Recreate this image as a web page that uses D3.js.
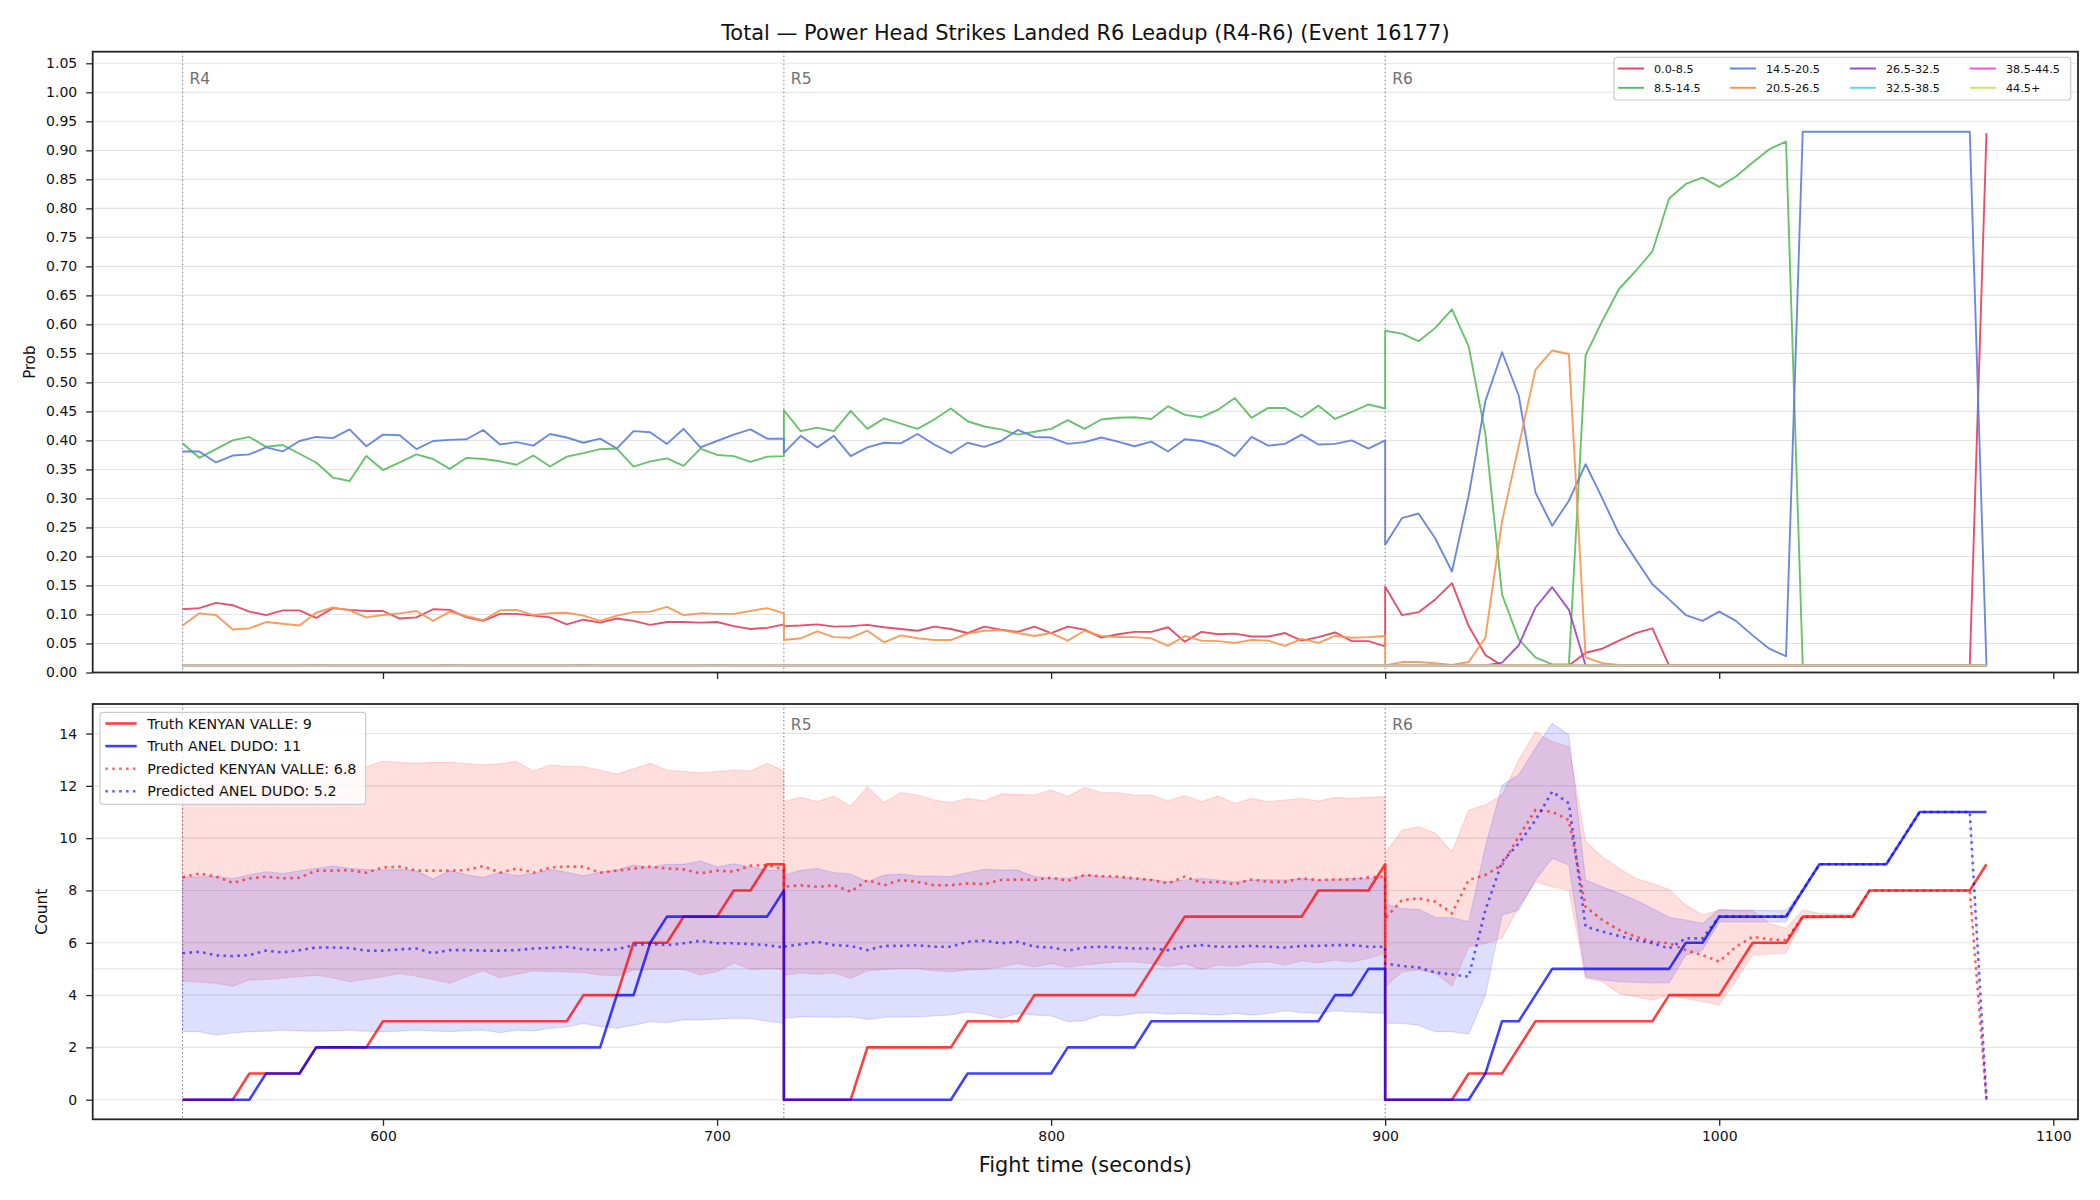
<!DOCTYPE html>
<html>
<head>
<meta charset="utf-8">
<script src="https://cdn.jsdelivr.net/npm/d3@7"></script>
<style>
  body { margin: 0; background: #fff; }
  svg text { font-family: "DejaVu Sans", sans-serif; }
</style>
</head>
<body>
<div id="chart"></div>
<script>
// ---------------------------  DATA  ---------------------------
const titleText = "Total \u2014 Power Head Strikes Landed R6 Leadup (R4-R6) (Event 16177)";
const roundStarts = [540, 720, 900];
const roundNames = ["R4", "R5", "R6"];
const samplesPerRound = 37;      // 0..180 s every 5 s, both ends included
const sampleStep = 5;

const xTicks = [600, 700, 800, 900, 1000, 1100];
const probTicks = [0, 0.05, 0.10, 0.15, 0.20, 0.25, 0.30, 0.35, 0.40, 0.45, 0.50,
                   0.55, 0.60, 0.65, 0.70, 0.75, 0.80, 0.85, 0.90, 0.95, 1.00, 1.05];
const countTicks = [0, 2, 4, 6, 8, 10, 12, 14];
const countRefLines = [5, 15];

const bucketNames = ["0.0-8.5", "8.5-14.5", "14.5-20.5", "20.5-26.5",
                     "26.5-32.5", "32.5-38.5", "38.5-44.5", "44.5+"];
const bucketColors = ["#e6405f", "#5bbd60", "#5f7fe0", "#f9954e",
                      "#9d45c2", "#5ad6f0", "#f050e0", "#c5e65a"];

// one array per bucket: R4 (37), R5 (37), R6 (37)
const prob0 = [
  0.109,0.111,0.120,0.116,0.105,0.099,0.107,0.107,0.094,0.111,0.108,0.106,0.106,0.093,0.095,0.109,0.108,0.095,0.089,0.101,0.101,0.098,0.095,0.083,0.091,0.086,0.093,0.089,0.082,0.087,0.087,0.086,0.087,0.080,0.075,0.077,0.083,
  0.080,0.081,0.083,0.079,0.080,0.082,0.078,0.075,0.072,0.079,0.075,0.068,0.079,0.074,0.070,0.079,0.068,0.079,0.074,0.060,0.066,0.070,0.070,0.078,0.053,0.070,0.066,0.067,0.062,0.062,0.068,0.055,0.061,0.069,0.054,0.054,0.045,
  0.148,0.099,0.104,0.126,0.154,0.080,0.030,0.012,0.012,0.012,0.012,0.012,0.034,0.041,0.055,0.068,0.076,0.012,0.012,0.012,0.012,0.012,0.012,0.012,0.012,0.012,0.012,0.012,0.012,0.012,0.012,0.012,0.012,0.012,0.012,0.012,0.930
];
const prob1 = [
  0.395,0.370,0.385,0.400,0.406,0.389,0.392,0.377,0.362,0.336,0.330,0.373,0.349,0.362,0.376,0.368,0.351,0.370,0.368,0.364,0.358,0.374,0.355,0.372,0.378,0.385,0.386,0.355,0.364,0.369,0.356,0.386,0.375,0.373,0.363,0.372,0.373,
  0.452,0.416,0.422,0.416,0.451,0.420,0.438,0.429,0.420,0.436,0.455,0.433,0.424,0.419,0.410,0.415,0.420,0.435,0.420,0.436,0.439,0.440,0.437,0.459,0.444,0.440,0.453,0.473,0.439,0.456,0.456,0.440,0.460,0.437,0.449,0.462,0.455,
  0.589,0.584,0.571,0.594,0.626,0.562,0.411,0.134,0.057,0.026,0.014,0.014,0.547,0.606,0.661,0.692,0.726,0.817,0.842,0.853,0.837,0.855,0.879,0.902,0.915,0.012,0.012,0.012,0.012,0.012,0.012,0.012,0.012,0.012,0.012,0.012,0.012
];
const prob2 = [
  0.381,0.381,0.362,0.374,0.376,0.388,0.381,0.399,0.406,0.404,0.419,0.390,0.410,0.409,0.385,0.399,0.401,0.402,0.418,0.393,0.397,0.391,0.411,0.405,0.396,0.403,0.386,0.416,0.414,0.394,0.420,0.388,0.399,0.410,0.419,0.403,0.403,
  0.378,0.408,0.388,0.408,0.373,0.388,0.396,0.395,0.411,0.393,0.378,0.396,0.389,0.399,0.418,0.406,0.405,0.394,0.397,0.405,0.398,0.390,0.398,0.381,0.402,0.399,0.390,0.373,0.406,0.391,0.394,0.410,0.393,0.394,0.400,0.386,0.400,
  0.220,0.266,0.274,0.231,0.174,0.305,0.468,0.552,0.477,0.310,0.253,0.296,0.359,0.300,0.239,0.195,0.152,0.126,0.099,0.089,0.105,0.089,0.064,0.041,0.028,0.932,0.932,0.932,0.932,0.932,0.932,0.932,0.932,0.932,0.932,0.932,0.012
];
const prob3 = [
  0.081,0.102,0.099,0.074,0.076,0.087,0.084,0.081,0.103,0.112,0.107,0.095,0.099,0.102,0.106,0.089,0.105,0.097,0.090,0.107,0.108,0.099,0.102,0.103,0.098,0.089,0.098,0.104,0.105,0.113,0.099,0.102,0.101,0.101,0.106,0.111,0.102,
  0.056,0.059,0.071,0.061,0.060,0.072,0.052,0.064,0.059,0.056,0.056,0.067,0.072,0.073,0.068,0.063,0.068,0.055,0.072,0.063,0.061,0.061,0.059,0.046,0.063,0.055,0.054,0.051,0.056,0.055,0.046,0.058,0.051,0.063,0.060,0.061,0.063,
  0.012,0.018,0.018,0.016,0.013,0.018,0.060,0.261,0.391,0.522,0.555,0.549,0.026,0.016,0.013,0.012,0.012,0.012,0.012,0.012,0.012,0.012,0.012,0.012,0.012,0.012,0.012,0.012,0.012,0.012,0.012,0.012,0.012,0.012,0.012,0.012,0.012
];
const prob4 = [
  0.012,0.012,0.012,0.012,0.012,0.012,0.012,0.012,0.013,0.012,0.012,0.012,0.012,0.012,0.012,0.012,0.013,0.012,0.012,0.012,0.012,0.012,0.012,0.012,0.013,0.012,0.012,0.012,0.012,0.012,0.012,0.012,0.013,0.012,0.012,0.012,0.012,
  0.012,0.012,0.012,0.012,0.012,0.012,0.012,0.012,0.012,0.012,0.012,0.012,0.012,0.012,0.012,0.012,0.012,0.012,0.012,0.012,0.012,0.012,0.012,0.012,0.012,0.012,0.012,0.012,0.012,0.012,0.012,0.012,0.012,0.012,0.012,0.012,0.012,
  0.012,0.012,0.012,0.012,0.012,0.012,0.012,0.017,0.047,0.112,0.147,0.108,0.012,0.012,0.012,0.012,0.012,0.012,0.012,0.012,0.012,0.012,0.012,0.012,0.012,0.012,0.012,0.012,0.012,0.012,0.012,0.012,0.012,0.012,0.012,0.012,0.012
];
const probFlat = [
  0.012,0.012,0.012,0.012,0.012,0.012,0.012,0.012,0.012,0.012,0.012,0.012,0.012,0.012,0.012,0.012,0.012,0.012,0.012,0.012,0.012,0.012,0.012,0.012,0.012,0.012,0.012,0.012,0.012,0.012,0.012,0.012,0.012,0.012,0.012,0.012,0.012,
  0.012,0.012,0.012,0.012,0.012,0.012,0.012,0.012,0.012,0.012,0.012,0.012,0.012,0.012,0.012,0.012,0.012,0.012,0.012,0.012,0.012,0.012,0.012,0.012,0.012,0.012,0.012,0.012,0.012,0.012,0.012,0.012,0.012,0.012,0.012,0.012,0.012,
  0.012,0.012,0.012,0.012,0.012,0.012,0.012,0.012,0.012,0.012,0.012,0.012,0.012,0.012,0.012,0.012,0.012,0.012,0.012,0.012,0.012,0.012,0.012,0.012,0.012,0.012,0.012,0.012,0.012,0.012,0.012,0.012,0.012,0.012,0.012,0.012,0.012
];
const probSeries = [prob0, prob1, prob2, prob3, prob4, probFlat, probFlat, probFlat];

// bottom panel: fighters
const fighterNames = ["KENYAN VALLE", "ANEL DUDO"];
const truthFinal = [9, 11];
const predFinal = [6.8, 5.2];

const truthRed = [
  0,0,0,0,1,1,1,1,2,2,2,2,3,3,3,3,3,3,3,3,3,3,3,3,4,4,4,6,6,6,7,7,7,8,8,9,9,
  0,0,0,0,0,2,2,2,2,2,2,3,3,3,3,4,4,4,4,4,4,4,5,6,7,7,7,7,7,7,7,7,8,8,8,8,9,
  0,0,0,0,0,1,1,1,2,3,3,3,3,3,3,3,3,4,4,4,4,5,6,6,6,7,7,7,7,8,8,8,8,8,8,8,9
];
const truthBlue = [
  0,0,0,0,0,1,1,1,2,2,2,2,2,2,2,2,2,2,2,2,2,2,2,2,2,2,4,4,6,7,7,7,7,7,7,7,8,
  0,0,0,0,0,0,0,0,0,0,0,1,1,1,1,1,1,2,2,2,2,2,3,3,3,3,3,3,3,3,3,3,3,4,4,5,5,
  0,0,0,0,0,0,1,3,3,4,5,5,5,5,5,5,5,5,6,6,7,7,7,7,7,8,9,9,9,9,9,10,11,11,11,11,11
];
const predRed = [
  8.50,8.65,8.53,8.29,8.46,8.53,8.46,8.49,8.76,8.76,8.78,8.68,8.88,8.91,8.76,8.76,8.76,8.78,8.93,8.68,8.84,8.68,8.88,8.91,8.91,8.68,8.76,8.84,8.91,8.84,8.81,8.65,8.76,8.72,8.95,8.97,8.81,
  8.14,8.20,8.14,8.20,7.95,8.40,8.20,8.40,8.33,8.20,8.20,8.27,8.24,8.40,8.42,8.40,8.49,8.37,8.59,8.55,8.53,8.46,8.40,8.27,8.53,8.30,8.33,8.24,8.42,8.33,8.33,8.46,8.40,8.42,8.42,8.50,8.53,
  6.93,7.63,7.70,7.57,7.13,8.40,8.59,8.97,10.06,11.08,11.01,10.69,7.38,6.87,6.49,6.23,6.04,5.98,5.72,5.53,5.28,5.85,6.23,6.13,6.10,7.00,7.00,7.00,7.00,8.00,8.00,8.00,8.00,8.00,8.00,8.00,0
];
const predBlue = [
  5.60,5.66,5.52,5.49,5.53,5.70,5.63,5.72,5.82,5.82,5.80,5.70,5.70,5.75,5.78,5.60,5.72,5.72,5.70,5.70,5.72,5.78,5.80,5.85,5.75,5.72,5.75,5.91,5.95,5.91,5.98,6.08,5.98,5.98,5.95,5.91,5.82,
  5.85,5.94,6.04,5.91,5.88,5.72,5.88,5.88,5.91,5.85,5.85,6.04,6.08,5.98,6.04,5.85,5.82,5.70,5.82,5.85,5.82,5.78,5.78,5.72,5.85,5.91,5.85,5.85,5.88,5.85,5.82,5.88,5.88,5.91,5.91,5.85,5.85,
  5.21,5.11,5.06,4.86,4.79,4.70,7.25,9.10,9.80,10.69,11.78,11.33,6.62,6.43,6.26,6.10,5.98,5.78,6.17,6.17,7.00,7.00,7.00,7.00,7.00,8.02,9.00,9.00,9.00,9.00,9.00,10.00,11.00,11.00,11.00,11.00,0
];
const redHi = [
  12.60,12.65,12.55,12.45,12.50,12.55,12.60,12.70,12.75,12.80,12.73,12.73,12.95,12.90,12.86,12.90,12.90,12.85,12.80,12.85,12.93,12.57,12.80,12.75,12.73,12.60,12.45,12.65,12.86,12.60,12.55,12.50,12.55,12.60,12.57,12.86,12.57,
  11.40,11.56,11.40,11.61,11.23,11.97,11.36,11.74,11.65,11.46,11.36,11.52,11.43,11.69,11.68,11.65,11.84,11.59,11.94,11.74,11.74,11.65,11.65,11.43,11.63,11.40,11.61,11.33,11.52,11.40,11.46,11.52,11.42,11.56,11.52,11.56,11.59,
  9.42,10.30,10.44,10.19,9.48,11.08,11.27,11.65,12.99,14.07,13.69,13.50,9.87,9.29,8.85,8.46,8.27,8.04,7.44,7.06,7.25,7.23,7.23,6.74,6.55,7.25,7.13,7.10,7.10,8.00,8.00,8.00,8.00,8.00,8.00,8.00,0
];
const redLo = [
  4.54,4.49,4.45,4.34,4.58,4.60,4.65,4.70,4.76,4.66,4.51,4.61,4.70,4.83,4.72,4.60,4.45,4.70,4.93,4.66,4.80,4.92,4.90,4.89,4.86,4.77,4.73,4.96,4.98,4.98,4.98,4.77,4.89,5.24,4.98,5.02,4.98,
  4.76,4.85,4.80,4.85,4.64,4.93,4.98,5.02,5.02,4.93,4.89,4.96,4.98,5.08,5.21,5.08,5.21,5.06,5.15,5.21,5.27,5.27,5.21,5.08,5.21,4.98,5.15,5.11,5.24,5.27,5.15,5.31,5.24,5.34,5.27,5.40,5.60,
  4.32,4.89,4.96,4.83,4.35,5.85,5.98,6.17,7.38,8.34,8.14,8.02,4.64,4.51,4.06,3.94,3.81,4.00,3.87,3.75,3.62,4.58,5.53,5.57,5.60,6.90,6.93,6.97,6.97,8.00,8.00,8.00,8.00,8.00,8.00,8.00,0
];
const blueHi = [
  8.50,8.52,8.53,8.45,8.60,8.72,8.65,8.75,8.85,8.93,8.85,8.80,8.78,8.80,8.75,8.44,8.76,8.60,8.50,8.70,8.56,8.65,8.80,8.70,8.56,8.70,8.78,8.97,8.88,9.00,9.00,9.13,8.90,9.02,8.90,8.78,8.78,
  8.59,8.76,8.84,8.68,8.63,8.33,8.59,8.63,8.55,8.55,8.53,8.68,8.81,8.78,8.78,8.53,8.46,8.46,8.59,8.53,8.50,8.46,8.42,8.33,8.40,8.46,8.40,8.33,8.40,8.42,8.40,8.46,8.40,8.42,8.46,8.46,8.46,
  7.48,7.31,7.28,6.97,6.96,6.80,9.68,12.03,12.42,13.44,14.39,13.95,8.40,8.14,7.89,7.63,7.31,6.97,6.87,6.74,7.28,7.25,7.25,7.23,7.23,8.02,9.00,9.00,9.00,9.00,9.00,10.00,11.00,11.00,11.00,11.00,0
];
const blueLo = [
  2.60,2.60,2.47,2.55,2.60,2.62,2.66,2.63,2.62,2.63,2.66,2.62,2.60,2.62,2.66,2.63,2.60,2.64,2.66,2.56,2.66,2.63,2.73,2.78,2.92,2.80,2.73,2.85,2.98,2.95,3.05,3.05,3.08,3.11,3.10,3.00,2.92,
  3.11,3.17,3.17,3.15,3.17,3.07,3.15,3.17,3.17,3.20,3.24,3.36,3.27,3.11,3.30,3.24,3.20,2.98,3.02,3.24,3.20,3.30,3.33,3.27,3.30,3.27,3.24,3.30,3.24,3.30,3.40,3.33,3.30,3.40,3.36,3.33,3.30,
  2.92,2.92,2.85,2.60,2.60,2.51,4.00,7.06,7.25,8.40,9.23,8.97,4.70,4.58,4.51,4.48,4.47,4.47,5.53,5.72,6.80,6.80,6.80,6.80,6.80,8.02,9.00,9.00,9.00,9.00,9.00,10.00,11.00,11.00,11.00,11.00,0
];

// sample times, each round restarts at its own start (duplicate x at the joins)
const times = roundStarts.flatMap(s => d3.range(samplesPerRound).map(i => s + i * sampleStep));

// ---------------------------  LAYOUT  ---------------------------
const W = 2100, H = 1200;
const plotL = 92.7, plotR = 2078;
const topT = 51.7, topB = 672.5;
const botT = 704, botB = 1119.3;
const ink = "#262626";

const svg = d3.select("#chart").append("svg")
    .attr("width", W).attr("height", H)
    .style("background", "#fff");

const x = d3.scaleLinear().domain([513.1, 1107.4]).range([plotL, plotR]);
const yTop = d3.scaleLinear().domain([0, 1.07]).range([topB, topT]);
const yBot = d3.scaleLinear().domain([-0.75, 15.13]).range([botB, botT]);

const defs = svg.append("defs");
defs.append("clipPath").attr("id", "clipTop").append("rect")
    .attr("x", plotL).attr("y", topT).attr("width", plotR - plotL).attr("height", topB - topT);
defs.append("clipPath").attr("id", "clipBot").append("rect")
    .attr("x", plotL).attr("y", botT).attr("width", plotR - plotL).attr("height", botB - botT);

// title
svg.append("text")
    .attr("x", (plotL + plotR) / 2).attr("y", 39.5)
    .attr("text-anchor", "middle").attr("font-size", 20.9).attr("fill", "#111")
    .text(titleText);

// grid lines
function hGrid(values, yScale) {
    svg.append("g").selectAll("line").data(values).join("line")
        .attr("x1", plotL).attr("x2", plotR)
        .attr("y1", d => yScale(d)).attr("y2", d => yScale(d))
        .attr("stroke", "#e3e3e3").attr("stroke-width", 1.1);
}
hGrid(probTicks, yTop);
hGrid(countTicks.concat(countRefLines), yBot);

// round markers (the bottom-left label sits under the legend, so it is left out there)
function roundMarkers(y0, y1, labelStarts, labelDy) {
    const g = svg.append("g");
    g.selectAll("line").data(roundStarts).join("line")
        .attr("x1", d => x(d)).attr("x2", d => x(d))
        .attr("y1", y0).attr("y2", y1)
        .attr("stroke", "#777").attr("stroke-width", 1)
        .attr("stroke-dasharray", "1.5,2.5");
    g.selectAll("text").data(labelStarts).join("text")
        .attr("x", d => x(d) + 7).attr("y", y0 + labelDy)
        .attr("font-size", 15.5).attr("fill", "#707070")
        .text(d => roundNames[roundStarts.indexOf(d)]);
}
roundMarkers(topT, topB, roundStarts, 32);
roundMarkers(botT, botB, roundStarts.slice(1), 25.5);

// ---------------------------  TOP PANEL  ---------------------------
const gTop = svg.append("g").attr("clip-path", "url(#clipTop)");
const probLine = d3.line().x((d, i) => x(times[i])).y(d => yTop(d));
probSeries.forEach((s, i) => {
    gTop.append("path").datum(s)
        .attr("d", probLine)
        .attr("fill", "none")
        .attr("stroke", bucketColors[i])
        .attr("stroke-width", 1.9)
        .attr("stroke-opacity", 0.92)
        .attr("stroke-linejoin", "round");
});

// ---------------------------  BOTTOM PANEL  ---------------------------
const gBot = svg.append("g").attr("clip-path", "url(#clipBot)");
const band = (lo, hi) => d3.area()
    .x((d, i) => x(times[i]))
    .y0((d, i) => yBot(lo[i]))
    .y1((d, i) => yBot(hi[i]))(times);
const countLine = d3.line().x((d, i) => x(times[i])).y(d => yBot(d));

[[redLo, redHi, "#ff0000"], [blueLo, blueHi, "#0000ff"]].forEach(([lo, hi, c]) => {
    gBot.append("path").attr("d", band(lo, hi))
        .attr("fill", c).attr("fill-opacity", 0.13)
        .attr("stroke", c).attr("stroke-opacity", 0.12).attr("stroke-width", 1.2);
});

gBot.append("path").datum(truthRed).attr("d", countLine)
    .attr("fill", "none").attr("stroke", "#ff0000").attr("stroke-opacity", 0.75)
    .attr("stroke-width", 2.6).attr("stroke-linejoin", "round");
gBot.append("path").datum(truthBlue).attr("d", countLine)
    .attr("fill", "none").attr("stroke", "#0000ff").attr("stroke-opacity", 0.75)
    .attr("stroke-width", 2.6).attr("stroke-linejoin", "round");
gBot.append("path").datum(predRed).attr("d", countLine)
    .attr("fill", "none").attr("stroke", "#ff0000").attr("stroke-opacity", 0.6)
    .attr("stroke-width", 2.6).attr("stroke-dasharray", "2.6,4.3");
gBot.append("path").datum(predBlue).attr("d", countLine)
    .attr("fill", "none").attr("stroke", "#0000ff").attr("stroke-opacity", 0.6)
    .attr("stroke-width", 2.6).attr("stroke-dasharray", "2.6,4.3");

// ---------------------------  AXES  ---------------------------
function styleAxis(g) {
    g.select(".domain").remove();
    g.selectAll(".tick line").attr("stroke", ink).attr("stroke-width", 1.3);
    g.selectAll(".tick text").attr("fill", "#111").attr("font-size", 14)
        .attr("font-family", "DejaVu Sans, sans-serif");
}
svg.append("g").attr("transform", `translate(0,${topB})`)
    .call(d3.axisBottom(x).tickValues(xTicks).tickSize(6.5).tickFormat(""))
    .call(styleAxis);
svg.append("g").attr("transform", `translate(0,${botB})`)
    .call(d3.axisBottom(x).tickValues(xTicks).tickSize(6.5).tickPadding(5.5).tickFormat(d3.format("d")))
    .call(styleAxis);
svg.append("g").attr("transform", `translate(${plotL},0)`)
    .call(d3.axisLeft(yTop).tickValues(probTicks).tickSize(6.5).tickPadding(9).tickFormat(d3.format(".2f")))
    .call(styleAxis);
svg.append("g").attr("transform", `translate(${plotL},0)`)
    .call(d3.axisLeft(yBot).tickValues(countTicks).tickSize(6.5).tickPadding(9).tickFormat(d3.format("d")))
    .call(styleAxis);

// frames
[[topT, topB], [botT, botB]].forEach(([t, b]) => {
    svg.append("rect").attr("x", plotL).attr("y", t)
        .attr("width", plotR - plotL).attr("height", b - t)
        .attr("fill", "none").attr("stroke", ink).attr("stroke-width", 1.8);
});

// axis labels
svg.append("text").attr("transform", `translate(34.5,${(topT + topB) / 2}) rotate(-90)`)
    .attr("text-anchor", "middle").attr("font-size", 15).attr("fill", "#111").text("Prob");
svg.append("text").attr("transform", `translate(46.5,${(botT + botB) / 2}) rotate(-90)`)
    .attr("text-anchor", "middle").attr("font-size", 15.5).attr("fill", "#111").text("Count");
svg.append("text").attr("x", (plotL + plotR) / 2).attr("y", 1172)
    .attr("text-anchor", "middle").attr("font-size", 20.9).attr("fill", "#111")
    .text("Fight time (seconds)");

// ---------------------------  LEGENDS  ---------------------------
function legendBox(x0, y0, w, h) {
    svg.append("rect").attr("x", x0).attr("y", y0).attr("width", w).attr("height", h)
        .attr("rx", 3).attr("fill", "#fff").attr("fill-opacity", 0.8)
        .attr("stroke", "#cccccc").attr("stroke-width", 1.2);
}

// top legend: 4 columns x 2 rows, column-major
legendBox(1614, 57.3, 456.7, 42.7);
const legColX = [1618, 1730, 1850, 1970];
const legRowY = [68.5, 87.8];
const gLegTop = svg.append("g");
bucketNames.forEach((name, i) => {
    const cx = legColX[Math.floor(i / 2)], cy = legRowY[i % 2];
    gLegTop.append("line").attr("x1", cx).attr("x2", cx + 26).attr("y1", cy).attr("y2", cy)
        .attr("stroke", bucketColors[i]).attr("stroke-width", 1.9);
    gLegTop.append("text").attr("x", cx + 36).attr("y", cy + 4)
        .attr("font-size", 11.2).attr("fill", "#111").text(name);
});

// bottom legend
legendBox(100, 712.3, 265.7, 92);
const botLegend = [
    { label: `Truth ${fighterNames[0]}: ${truthFinal[0]}`, color: "#ff0000", op: 0.75, dash: null },
    { label: `Truth ${fighterNames[1]}: ${truthFinal[1]}`, color: "#0000ff", op: 0.75, dash: null },
    { label: `Predicted ${fighterNames[0]}: ${predFinal[0]}`, color: "#ff0000", op: 0.6, dash: "2.6,4.3" },
    { label: `Predicted ${fighterNames[1]}: ${predFinal[1]}`, color: "#0000ff", op: 0.6, dash: "2.6,4.3" }
];
const gLegBot = svg.append("g");
botLegend.forEach((e, i) => {
    const cy = 723.5 + i * 22.6;
    gLegBot.append("line").attr("x1", 105.3).attr("x2", 136.7).attr("y1", cy).attr("y2", cy)
        .attr("stroke", e.color).attr("stroke-opacity", e.op).attr("stroke-width", 2.6)
        .attr("stroke-dasharray", e.dash);
    gLegBot.append("text").attr("x", 147.3).attr("y", cy + 5)
        .attr("font-size", 14.3).attr("fill", "#111").text(e.label);
});
</script>
</body>
</html>
